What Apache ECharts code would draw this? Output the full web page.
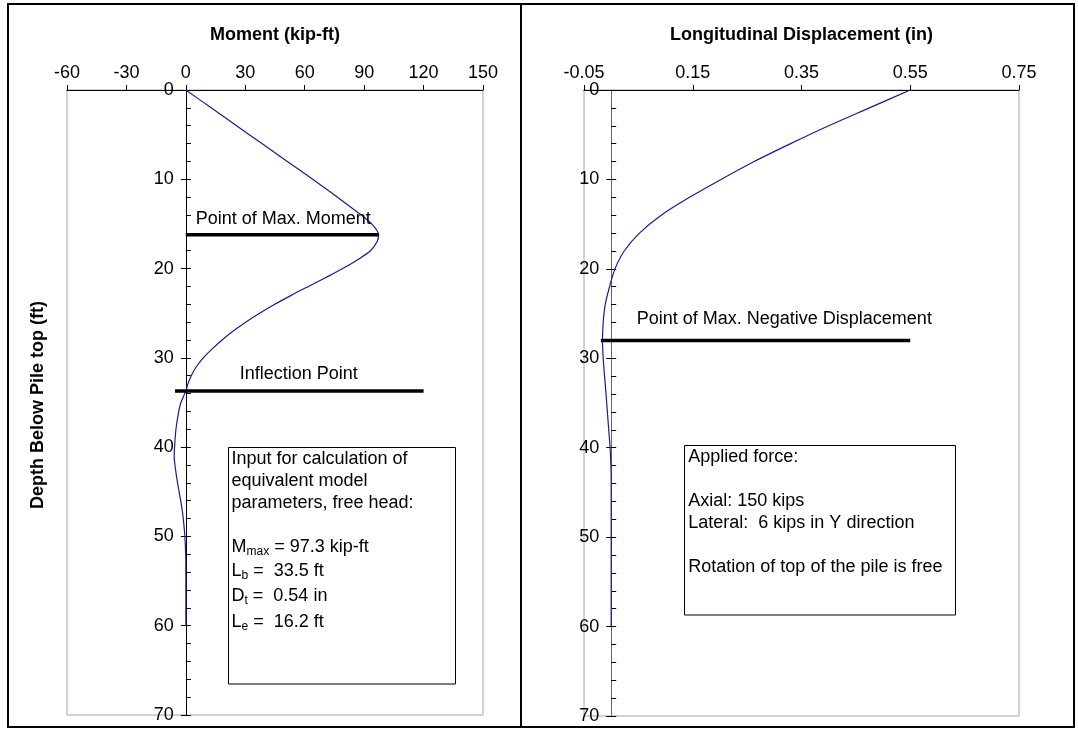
<!DOCTYPE html>
<html><head><meta charset="utf-8">
<script src="https://cdn.jsdelivr.net/npm/echarts@6/dist/echarts.min.js"></script>
<style>html,body{margin:0;padding:0;background:#fff}#c{width:1078px;height:731px}</style>
</head><body><div id="c"></div>
<script>
// ---- data ----
const momentDepth  = [0, 2, 4, 6, 8, 10, 12, 14, 15, 16.2, 17, 18, 19, 20, 21, 22, 23, 24, 25, 26, 27, 28, 29, 30, 31, 32, 33, 33.7, 35, 36, 38, 40, 41, 42, 43, 44, 45, 46, 47, 48, 50, 52, 54, 56, 58, 60];
const momentValues = [0, 12.8, 25.6, 38.4, 51.2, 64, 76.5, 88.5, 93.8, 97.3, 96.5, 93.2, 86.7, 79.2, 70.7, 61.9, 53.2, 44.9, 37.2, 30.2, 23.9, 18.3, 13.3, 8.8, 5.3, 2.7, 0.9, 0, -2.5, -3.6, -5, -5.7, -5.9, -5.5, -4.9, -4.2, -3.4, -2.6, -1.9, -1.3, -0.5, -0.1, 0, 0, 0, 0];
const dispDepth  = [0, 2, 4, 6, 8, 10, 12, 14, 16, 18, 20, 22, 24, 26, 28, 30, 32, 34, 36, 38, 40, 42, 44, 46, 50, 55, 60];
const dispValues = [0.55, 0.475, 0.40, 0.33, 0.263, 0.202, 0.144, 0.092, 0.052, 0.024, 0.007, -0.003, -0.011, -0.0147, -0.016, -0.0147, -0.0122, -0.0095, -0.007, -0.0045, -0.002, -0.0005, 0, 0, 0, 0, 0];

const maxMomentLine   = [[0, 16.2], [97.3, 16.2]];
const inflectionLine  = [[-5.5, 33.7], [120, 33.7]];
const maxNegDispLine  = [[-0.019, 28], [0.55, 28]];

const momentAxis = { min: -60, max: 150, interval: 30 };
const dispAxis   = { min: -0.05, max: 0.75, interval: 0.2 };
const depthAxis  = { min: 0, max: 70, interval: 10 };

const momentTitle = 'Moment (kip-ft)';
const dispTitle = 'Longitudinal Displacement (in)';
const depthTitle = 'Depth Below Pile top (ft)';

const leftBoxLines = [
  'Input for calculation of',
  'equivalent model',
  'parameters, free head:',
  '',
  'M{s|max} = 97.3 kip-ft',
  'L{s|b} =  33.5 ft',
  'D{s|t} =  0.54 in',
  'L{s|e} =  16.2 ft'
];
const rightBoxLines = [
  'Applied force:',
  '',
  'Axial: 150 kips',
  'Lateral:  6 kips in Y direction',
  '',
  'Rotation of top of the pile is free'
];

// ---- chart ----
const FONT = '"Liberation Sans", Arial, sans-serif';
const chart = echarts.init(document.getElementById('c'));
const pairs = (xs, ys) => ys.map((d, i) => [xs[i], d]);

const gridL = { left: 67, top: 90, width: 416, height: 625 };
const gridR = { left: 584, top: 90, width: 435, height: 626 };
// y axes sit at x = 0 of their x axis
const zeroOffset = (ax, g) => -((0 - ax.min) / (ax.max - ax.min)) * g.width;

function xAxisDef(grid, ax, name, fmt) {
  return {
    type: 'value', gridIndex: grid, position: 'top',
    min: ax.min, max: ax.max, interval: ax.interval,
    name: name, nameLocation: 'middle', nameGap: 46,
    nameTextStyle: { fontSize: 18, fontWeight: 'bold', color: '#000', fontFamily: FONT },
    axisLine: { show: true, onZero: false, lineStyle: { color: '#000', width: 1 } },
    axisTick: { show: true, inside: false, length: 5, lineStyle: { color: '#000' } },
    axisLabel: { fontSize: 18, color: '#000', margin: 8, fontFamily: FONT, formatter: fmt },
    splitLine: { show: false }
  };
}
function yAxesDef(grid, offset, lineColor) {
  return [{
    type: 'value', gridIndex: grid, position: 'left', inverse: true, offset: offset,
    min: depthAxis.min, max: depthAxis.max, interval: depthAxis.interval,
    axisLine: { show: true, onZero: false, lineStyle: { color: lineColor, width: 1 } },
    axisTick: { show: true, inside: false, length: 5, lineStyle: { color: '#000' } },
    axisLabel: { fontSize: 18, color: '#000', margin: 12, fontFamily: FONT },
    splitLine: { show: false }
  }, {
    type: 'value', gridIndex: grid, position: 'left', inverse: true, offset: offset,
    min: depthAxis.min, max: depthAxis.max, interval: depthAxis.interval,
    axisLine: { show: false, onZero: false },
    axisTick: { show: true, inside: true, length: 5, lineStyle: { color: '#000' } },
    minorTick: { show: true, splitNumber: 5, length: 5, lineStyle: { color: '#000' } },
    axisLabel: { show: false },
    splitLine: { show: false }
  }];
}

const curveStyle = { color: '#1a1a9a', width: 1.2 };
const markStyle = { color: '#000', width: 3.5 };

chart.setOption({
  animation: false,
  backgroundColor: '#fff',
  grid: [
    Object.assign({ show: true, borderColor: '#a6a6a6', borderWidth: 1, backgroundColor: 'transparent' }, gridL),
    Object.assign({ show: true, borderColor: '#a6a6a6', borderWidth: 1, backgroundColor: 'transparent' }, gridR)
  ],
  xAxis: [
    xAxisDef(0, momentAxis, momentTitle, v => String(v)),
    xAxisDef(1, dispAxis, dispTitle, v => Number(v).toFixed(2))
  ],
  yAxis: [].concat(
    yAxesDef(0, zeroOffset(momentAxis, gridL), '#000'),
    yAxesDef(1, zeroOffset(dispAxis, gridR), '#666')
  ),
  series: [
    { type: 'line', xAxisIndex: 0, yAxisIndex: 0, data: pairs(momentValues, momentDepth), showSymbol: false, symbol: 'none', smooth: 0.3, lineStyle: curveStyle, z: 3 },
    { type: 'line', xAxisIndex: 0, yAxisIndex: 0, data: maxMomentLine, symbol: 'none', lineStyle: markStyle, z: 4 },
    { type: 'line', xAxisIndex: 0, yAxisIndex: 0, data: inflectionLine, symbol: 'none', lineStyle: markStyle, z: 4 },
    { type: 'line', xAxisIndex: 1, yAxisIndex: 2, data: pairs(dispValues, dispDepth), showSymbol: false, symbol: 'none', smooth: 0.3, lineStyle: curveStyle, z: 3 },
    { type: 'line', xAxisIndex: 1, yAxisIndex: 2, data: maxNegDispLine, symbol: 'none', lineStyle: markStyle, z: 4 }
  ]
});

// annotations anchored to data coordinates
const L = { xAxisIndex: 0, yAxisIndex: 0 };
const R = { xAxisIndex: 1, yAxisIndex: 2 };
const pMax = chart.convertToPixel(L, [5, maxMomentLine[0][1]]);
const pInf = chart.convertToPixel(L, [57, inflectionLine[0][1]]);
const pNeg = chart.convertToPixel(R, [0.047, maxNegDispLine[0][1]]);

const txt = (x, y, text, align) => ({
  type: 'text', x: x, y: y, z: 100,
  style: { text: text, fill: '#000', fontSize: 18, fontFamily: FONT, align: align || 'left', verticalAlign: 'middle' }
});

const graphics = [
  { type: 'rect', shape: { x: 8, y: 4, width: 1066, height: 723 }, style: { fill: 'none', stroke: '#000', lineWidth: 2 }, z: 100 },
  { type: 'line', shape: { x1: 521, y1: 4, x2: 521, y2: 727 }, style: { stroke: '#000', lineWidth: 2 }, z: 100 },
  txt(pMax[0], pMax[1] - 16, 'Point of Max. Moment', 'left'),
  txt(pInf[0], pInf[1] - 17, 'Inflection Point', 'center'),
  txt(pNeg[0], pNeg[1] - 21, 'Point of Max. Negative Displacement', 'left'),
  { type: 'text', x: 38, y: 405, rotation: Math.PI / 2, z: 100,
    style: { text: depthTitle, fill: '#000', fontSize: 18, fontWeight: 'bold', fontFamily: FONT, align: 'center', verticalAlign: 'middle' } },
  { type: 'rect', shape: { x: 228.5, y: 447.5, width: 227, height: 236.5 }, style: { fill: '#fff', stroke: '#000', lineWidth: 1 }, z: 90 },
  { type: 'rect', shape: { x: 684.5, y: 445.5, width: 271, height: 169.5 }, style: { fill: '#fff', stroke: '#000', lineWidth: 1 }, z: 90 }
];
const leftY = [459.3, 481, 502.7, 0, 546.7, 570.7, 596, 621.7];
leftBoxLines.forEach((t, i) => {
  if (!t) return;
  graphics.push({
    type: 'text', x: 231.5, y: leftY[i], z: 100,
    style: { text: t, fill: '#000', fontSize: 18, fontFamily: FONT, align: 'left', verticalAlign: 'middle', lineHeight: 22,
      rich: { s: { fontSize: 12, fontFamily: FONT, lineHeight: 12, verticalAlign: 'bottom', fill: '#000' } } }
  });
});
const rightY = [457.3, 0, 500.7, 522.7, 0, 566.7];
rightBoxLines.forEach((t, i) => {
  if (!t) return;
  graphics.push(txt(688.3, rightY[i], t, 'left'));
});
chart.setOption({ graphic: graphics });
</script>
</body></html>
